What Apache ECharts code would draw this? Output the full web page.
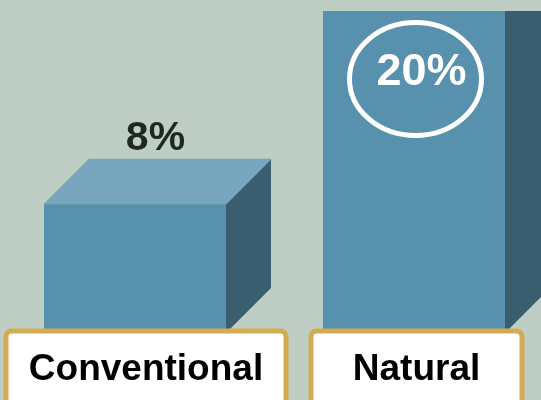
<!DOCTYPE html>
<html><head><meta charset="utf-8">
<script src="https://cdn.jsdelivr.net/npm/echarts@6/dist/echarts.min.js"></script>
<style>html,body{margin:0;padding:0;background:#bfcec5;}#c{width:541px;height:400px;}</style>
</head><body><div id="c"></div>
<script>
const categories = ['Conventional', 'Natural'];
const values = [8, 20];
const yMax = 20;

const FRONT = '#5891ae', TOP = '#77a6be', SIDE = '#3a5e70', GOLD = '#d5ab52';
const FONT = 'Liberation Sans';

function renderItem(params, api) {
  const i = api.value(0), v = api.value(1);
  const base = api.coord([i, 0]), top = api.coord([i, v]);
  const band = api.size([1, 0])[0];
  const w = band * 0.6523, d = band * 0.1613;
  const x0 = base[0] - w / 2, x1 = base[0] + w / 2, yt = top[1], yb = base[1];
  const children = [
    {type: 'polygon', shape: {points: [[x1, yt], [x1 + d, yt - d], [x1 + d, yb - d], [x1, yb]]}, style: {fill: SIDE}},
    {type: 'polygon', shape: {points: [[x0, yt], [x0 + d, yt - d], [x1 + d, yt - d], [x1, yt]]}, style: {fill: TOP, stroke: '#7f9ea8', lineWidth: 1}},
    {type: 'rect', shape: {x: x0, y: yt, width: w, height: yb - yt}, style: {fill: FRONT}}
  ];
  const label = v + '%';
  if (v >= yMax) {
    children.push({type: 'ellipse', shape: {cx: base[0] + 1.5, cy: yt + 68, rx: 66, ry: 56.5},
      style: {fill: 'none', stroke: '#fff', lineWidth: 5}});
    children.push({type: 'text', x: base[0] + 7.5, y: yt + 62,
      style: {text: label, fill: '#fff', fontSize: 45, fontWeight: 'bold', fontFamily: FONT, align: 'center', verticalAlign: 'middle'}});
  } else {
    children.push({type: 'text', x: base[0] + d / 2 - 2, y: yt - d - 21,
      style: {text: label, fill: '#1e2822', fontSize: 41, fontWeight: 'bold', fontFamily: FONT, align: 'center', verticalAlign: 'middle'}});
  }
  return {type: 'group', children};
}

const boxStyle = {height: 72, lineHeight: 72, align: 'center', backgroundColor: '#fff', borderColor: GOLD,
  borderWidth: 5, borderRadius: 3, fontFamily: FONT, fontWeight: 'bold', fontSize: 37, color: '#000'};

const chart = echarts.init(document.getElementById('c'), null, {renderer: 'canvas'});
chart.setOption({
  backgroundColor: '#bfcec5',
  animation: false,
  grid: {left: -4.5, right: -12.5, top: 11, bottom: 67, containLabel: false, outerBoundsMode: 'none'},
  xAxis: {
    type: 'category', data: categories, z: 10,
    axisLine: {show: false}, axisTick: {show: false}, splitLine: {show: false},
    axisLabel: {
      interval: 0, margin: 0.5, hideOverlap: false,
      formatter: (v, i) => '{s' + i + '| }{b' + i + '|' + v + '}',
      rich: {
        s0: {width: 22, height: 72}, s1: {width: 5, height: 72},
        b0: Object.assign({width: 275}, boxStyle),
        b1: Object.assign({width: 206}, boxStyle)
      }
    }
  },
  yAxis: {type: 'value', min: 0, max: yMax, show: false},
  series: [{type: 'custom', clip: true, data: values.map((v, i) => [i, v]), renderItem}]
});
</script>
</body></html>
